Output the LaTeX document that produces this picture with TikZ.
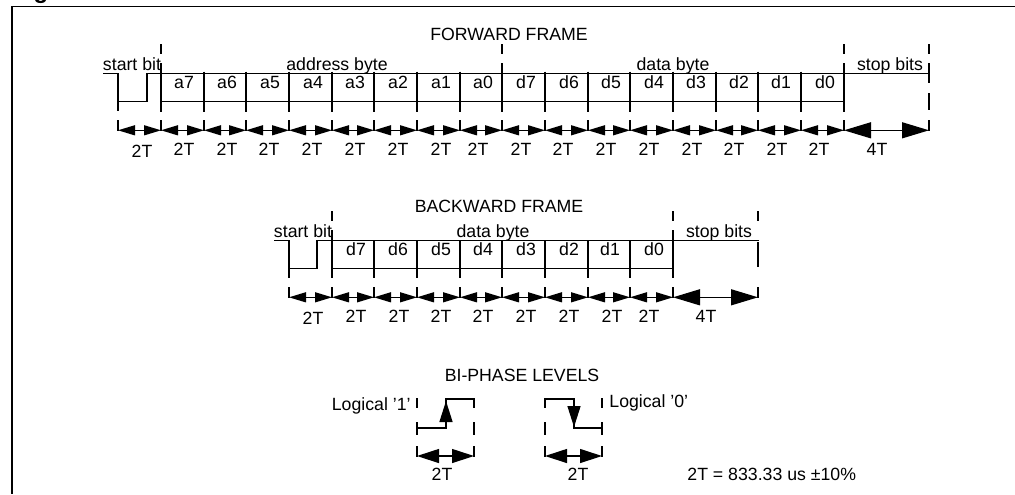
\documentclass[tikz,border=0pt]{standalone}
\usepackage{fontspec}
\setmainfont{Liberation Sans}
\usetikzlibrary{arrows.meta}
\tikzset{
  sig/.style={line width=0.7pt},
  edge/.style={line width=0.85pt},
  span/.style={line width=0.6pt,{Triangle[length=8.5pt,width=5pt]}-{Triangle[length=8.5pt,width=5pt]}},
  levelspan/.style={line width=0.6pt,{Triangle[length=11pt,width=7pt]}-{Triangle[length=11pt,width=7pt]}},
  widespan/.style={line width=0.6pt,{Triangle[length=13.5pt,width=8pt]}-{Triangle[length=13.5pt,width=8pt]}},
  lab/.style={anchor=base,inner sep=0pt,font=\fontsize{8.85}{10}\selectfont},
}
\begin{document}
\begin{tikzpicture}[x=0.5pt,y=-0.5pt]
\useasboundingbox (0,0) rectangle (1015,494);
% frame
\draw[sig] (1015,6.7) -- (12,6.7) -- (12,494);
\node[lab,font=\fontsize{12}{12}\bfseries\selectfont] (figtitle) at (41,-2) {g};
% forward frame
\node[lab] (fwdtitle) at (509,40.5) {FORWARD FRAME};
\draw[sig] (103,73.5) -- (118,73.5) -- (118,101.5) -- (147,101.5) -- (147,73.5) -- (161,73.5) -- (929,73.5);
\draw[sig] (118,101.5) -- (118,111);
\draw[sig] (161,101.5) -- (844,101.5);
% forward bit cells
\foreach \x in {204,246,289,332,374,417,460,545,588,630,673,716,758,801}{\draw[edge] (\x,71.5) -- (\x,111.5);}
% forward long marks
\foreach \x in {161,502,844}{
  \draw[edge] (\x,44) -- (\x,54);
  \draw[edge] (\x,63) -- (\x,111.5);
}
\draw[edge] (929,44) -- (929,54);
\draw[edge] (929,63) -- (929,83);
\draw[edge] (929,93) -- (929,110);
% forward ticks
\foreach \x in {118,161,204,246,289,332,374,417,460,502,545,588,630,673,716,758,801,844,929}{\draw[edge] (\x,120) -- (\x,130.5);}
% forward spans
\foreach \a/\b in {118/161,161/204,204/246,246/289,289/332,332/374,374/417,417/460,460/502,502/545,545/588,588/630,630/673,673/716,716/758,758/801,801/844}{\draw[span] (\a,130.3) -- (\b,130.3);}
\draw[widespan] (844,130.3) -- (929,130.3);
% forward labels
\node[lab] (fwdstart) at (132,70) {start bit};
\node[lab] (fwdaddr) at (337,70) {address byte};
\node[lab] (fwddata) at (673,70) {data byte};
\node[lab] (fwdstop) at (890,70) {stop bits};
\foreach \x/\lab in {184/a7,227/a6,270/a5,313/a4,355/a3,398/a2,441/a1,483/a0,526/d7,569/d6,611/d5,654/d4,696/d3,739/d2,781/d1,825/d0}{\node[lab] (fwd\lab) at (\x,88) {\lab};}
\node[lab] (fwdt) at (142,157) {2T};
\foreach \x in {184,227,269,312,355,398,441,478,521,563,606,649,692,734,777,819}{\node[lab] (fwdt\x) at (\x,155) {2T};}
\node[lab] (fwdw) at (877,155) {4T};
% backward frame
\node[lab] (backtitle) at (499,212) {BACKWARD FRAME};
\draw[sig] (274,240.5) -- (289,240.5) -- (289,268.5) -- (317,268.5) -- (317,240.5) -- (332,240.5) -- (759,240.5);
\draw[sig] (289,268.5) -- (289,278);
\draw[sig] (332,268.5) -- (673,268.5);
% backward bit cells
\foreach \x in {374,417,460,502,545,588,630}{\draw[edge] (\x,240) -- (\x,278);}
% backward long marks
\foreach \x in {332,673}{
  \draw[edge] (\x,211) -- (\x,221);
  \draw[edge] (\x,230) -- (\x,278);
}
\draw[edge] (758,211) -- (758,221);
\draw[edge] (758,242) -- (758,267);
% backward ticks
\foreach \x in {289,332,374,417,460,502,545,588,630,673,758}{\draw[edge] (\x,287) -- (\x,297.5);}
% backward spans
\foreach \a/\b in {289/332,332/374,374/417,417/460,460/502,502/545,545/588,588/630,630/673}{\draw[span] (\a,297.3) -- (\b,297.3);}
\draw[widespan] (673,297.3) -- (758,297.3);
% backward labels
\node[lab] (backstart) at (303,237) {start bit};
\node[lab] (backdata) at (493,237) {data byte};
\node[lab] (backstop) at (719,237) {stop bits};
\foreach \x/\lab in {356/d7,398/d6,441/d5,483/d4,526/d3,569/d2,610/d1,654/d0}{\node[lab] (back\lab) at (\x,255) {\lab};}
\node[lab] (backt) at (313,324) {2T};
\foreach \x in {356,399,441,483,526,569,612,649}{\node[lab] (backt\x) at (\x,322) {2T};}
\node[lab] (backw) at (706,322) {4T};
% bi-phase levels
\node[lab] (bititle) at (522,381) {BI-PHASE LEVELS};
\node[lab,anchor=base east] (logone) at (411,410) {Logical '1'};
\node[lab,anchor=base west] (logzero) at (609,407) {Logical '0'};
\draw[sig] (417,428) -- (446,428) -- (446,399) -- (474,399);
\draw[sig] (545,399) -- (574,399) -- (574,428) -- (602,428);
\draw[sig,-{Triangle[length=10.5pt,width=6.5pt]}] (446,428) -- (446,401);
\draw[sig,-{Triangle[length=10.5pt,width=6.5pt]}] (574,399) -- (574,427);
% bi-phase marks
\foreach \x in {417,474,545,602}{
  \draw[edge] (\x,398) -- (\x,408);
  \draw[edge] (\x,422) -- (\x,435);
  \draw[edge] (\x,446) -- (\x,456.5);
}
\draw[levelspan] (417,456) -- (474,456);
\draw[levelspan] (545,456) -- (602,456);
\node[lab] (bione) at (442,480) {2T};
\node[lab] (bizero) at (578,480) {2T};
\node[lab,anchor=base west] (bitnote) at (687,480) {2T = 833.33 us ±10\%};
\end{tikzpicture}
\end{document}
